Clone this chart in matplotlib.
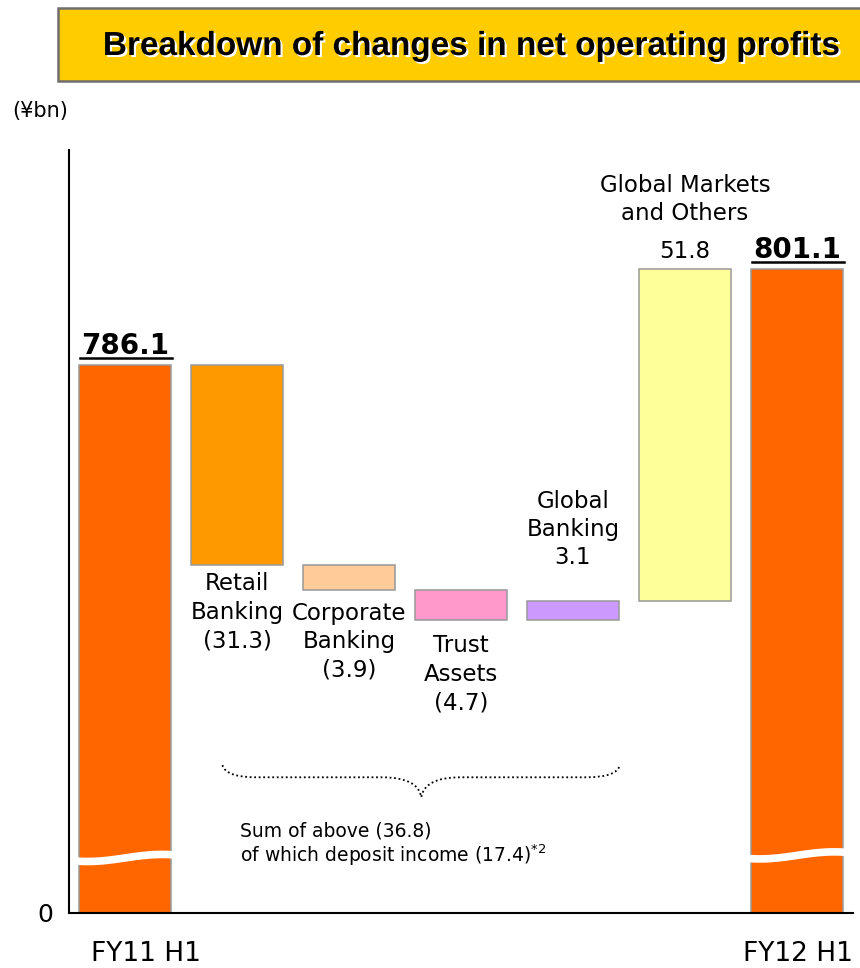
import numpy as np
import matplotlib
matplotlib.use('Agg')
import matplotlib.pyplot as plt
import matplotlib.patheffects as pe
from matplotlib.patches import Rectangle, PathPatch
from matplotlib.path import Path
from matplotlib.lines import Line2D

# values in ¥bn
categories = ['FY11 H1', 'Retail\nBanking', 'Corporate\nBanking', 'Trust\nAssets',
              'Global\nBanking', 'Global Markets\nand Others', 'FY12 H1']
start_total = 786.1
end_total = 801.1
changes = [-31.3, -3.9, -4.7, 3.1, 51.8]
deposit_income = -17.4

colors = ['#FF6600', '#FF9900', '#FFCC99', '#FF99CC', '#CC99FF', '#FFFF99', '#FF6600']
title = 'Breakdown of changes in net operating profits'

plt.rcParams['font.family'] = ['DejaVu Sans']

fig = plt.figure(figsize=(8.6, 9.68), dpi=100)
ax = fig.add_axes([69 / 860, 55 / 968, 784 / 860, 763 / 968])

# the axis is broken: its floor is shown as 0
y_floor, y_top = 700.5, 819.7
x = np.arange(len(categories))
width = 0.83

levels = np.concatenate([[start_total], start_total + np.cumsum(changes)])
bottoms = [y_floor] + list(np.minimum(levels[:-1], levels[1:])) + [y_floor]
heights = [start_total - y_floor] + list(np.abs(changes)) + [end_total - y_floor]
ax.bar(x, heights, width, bottom=bottoms, color=colors,
       edgecolor='#999999', linewidth=1.1, zorder=2)

# wavy break marks on the two total bars
t = np.linspace(0, 1, 60)
wave = np.sin(np.pi * (1.3 * t - 0.65))
for i, yb in [(0, 709.1), (6, 709.5)]:
    ax.plot(i - width / 2 - 0.02 + (width + 0.04) * t, yb + 0.55 * wave,
            color='white', lw=5.5, solid_capstyle='butt', zorder=3)

# labels of the step bars (pads in points)
pads = [5, 8, 10, 26.5, 8]
name_pads = [0, 0, 0, 43, 31.5]
for i, (lab, val) in enumerate(zip(categories[1:6], changes), start=1):
    if val < 0:
        ax.annotate(lab + '\n' + f'({abs(val):.1f})', xy=(i, bottoms[i]),
                    xytext=(0, -pads[i - 1]), textcoords='offset points',
                    ha='center', va='top', fontsize=16.5, linespacing=1.3)
    else:
        top = bottoms[i] + heights[i]
        ax.annotate(f'{val:.1f}', xy=(i, top), xytext=(0, pads[i - 1]),
                    textcoords='offset points', ha='center', va='baseline', fontsize=16.5)
        ax.annotate(lab, xy=(i, top), xytext=(0, name_pads[i - 1]),
                    textcoords='offset points', ha='center', va='bottom',
                    fontsize=16.5, linespacing=1.3)

# totals, bold and underlined
total_texts = []
for i, val in [(0, start_total), (6, end_total)]:
    tt = ax.annotate(f'{val:.1f}', xy=(i, val), xytext=(0, 8), textcoords='offset points',
                     ha='center', va='baseline', fontsize=20, fontweight='bold')
    total_texts.append((i, val, tt))

# x labels
for i, dx in [(0, 15), (6, 1)]:
    ax.annotate(categories[i], xy=(i, y_floor), xytext=(dx, -20), textcoords='offset points',
                ha='center', va='top', fontsize=19, annotation_clip=False)

# dotted brace under the four business segments
bx0, bx1 = 0.87, 4.42
bxm = (bx0 + bx1) / 2
by_end, by_mid, by_tip = 723.6, 721.7, 718.6
verts = [(bx0, by_end), (bx0 + 0.03, by_mid), (bx0 + 0.3, by_mid),
         (bxm - 0.35, by_mid), (bxm - 0.03, by_mid), (bxm, by_tip),
         (bxm + 0.03, by_mid), (bxm + 0.35, by_mid),
         (bx1 - 0.3, by_mid), (bx1 - 0.03, by_mid), (bx1, by_end)]
codes = [Path.MOVETO, Path.CURVE3, Path.CURVE3, Path.LINETO, Path.CURVE3, Path.CURVE3,
         Path.CURVE3, Path.CURVE3, Path.LINETO, Path.CURVE3, Path.CURVE3]
ax.add_patch(PathPatch(Path(verts, codes), fill=False, edgecolor='black',
                       linestyle=(0, (1, 1.5)), lw=1.3))

ax.text(1.03, 712.5, f'Sum of above ({abs(sum(changes[:4])):.1f})', fontsize=13.5, va='baseline')
ax.text(1.03, 708.45, f'of which deposit income ({abs(deposit_income):.1f})' + r'$^{*2}$',
        fontsize=13.5, va='baseline')

ax.set_xlim(-0.5, 6.5)
ax.set_ylim(y_floor, y_top)
ax.set_xticks([])
ax.set_yticks([y_floor])
ax.set_yticklabels(['0'], fontsize=18)
ax.tick_params(axis='y', length=0, pad=11)
for s in ['top', 'right']:
    ax.spines[s].set_visible(False)
for s in ['left', 'bottom']:
    ax.spines[s].set_linewidth(1.5)

# title box
fig.add_artist(Rectangle((58 / 860, 1 - 81 / 968), 0.95, 73 / 968, transform=fig.transFigure,
                         facecolor='#FFCC00', edgecolor='#6E6E6E', lw=1.8))
fig.text(472.5 / 860, 1 - 55 / 968, title, ha='center', va='baseline', fontsize=24,
         fontweight='bold', family='Liberation Sans',
         path_effects=[pe.withSimplePatchShadow(offset=(1.5, -1.5), shadow_rgbFace='white', alpha=1)])
fig.text(12 / 860, 1 - 117 / 968, '(¥bn)', fontsize=15, va='baseline')

# underline the totals
fig.canvas.draw()
renderer = fig.canvas.get_renderer()
inv = fig.transFigure.inverted()
for i, val, tt in total_texts:
    bb = tt.get_window_extent(renderer)
    base = ax.transData.transform((i, val))[1] + 8 * fig.dpi / 72
    p0 = inv.transform((bb.x0 - 1, base - 4))
    p1 = inv.transform((bb.x1 + 3, base - 4))
    fig.add_artist(Line2D([p0[0], p1[0]], [p0[1], p1[1]], color='black', lw=1.8,
                          transform=fig.transFigure))

fig.savefig('out.png', dpi=100)
